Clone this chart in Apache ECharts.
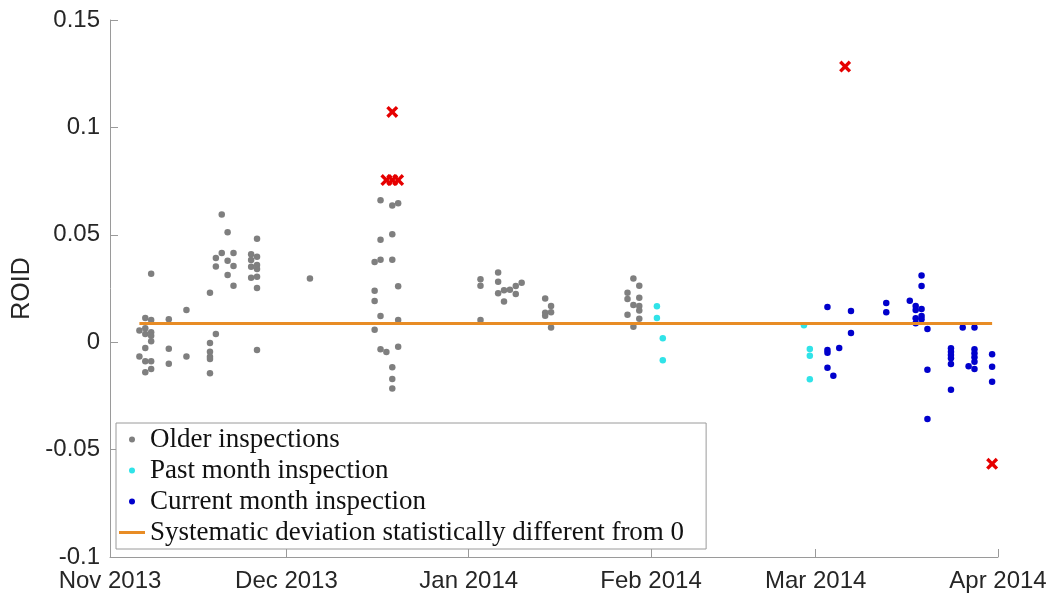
<!DOCTYPE html>
<html>
<head>
<meta charset="utf-8">
<script src="https://cdn.jsdelivr.net/npm/echarts@6/dist/echarts.min.js"></script>
<style>
html,body{margin:0;padding:0;background:#fff;}
#chart{width:1054px;height:596px;}
</style>
</head>
<body>
<div id="chart"></div>
<script>
// ---- data ----
const seriesNames = ['Older inspections', 'Past month inspection', 'Current month inspection',
  'Systematic deviation statistically different from 0'];

const olderPoints = [
  ['2013-11-06', 0.0054], ['2013-11-06', -0.0066],
  ['2013-11-07', 0.0113], ['2013-11-07', 0.0065], ['2013-11-07', 0.0038], ['2013-11-07', -0.0027],
  ['2013-11-07', -0.0089], ['2013-11-07', -0.0140],
  ['2013-11-08', 0.0319], ['2013-11-08', 0.0103], ['2013-11-08', 0.0046], ['2013-11-08', 0.0030],
  ['2013-11-08', 0.0004], ['2013-11-08', -0.0089], ['2013-11-08', -0.0125],
  ['2013-11-11', 0.0107], ['2013-11-11', -0.0030], ['2013-11-11', -0.0100],
  ['2013-11-14', 0.0150], ['2013-11-14', -0.0066],
  ['2013-11-18', 0.0230], ['2013-11-18', -0.0004], ['2013-11-18', -0.0044], ['2013-11-18', -0.0068],
  ['2013-11-18', -0.0078], ['2013-11-18', -0.0145],
  ['2013-11-19', 0.0392], ['2013-11-19', 0.0353], ['2013-11-19', 0.0038],
  ['2013-11-20', 0.0595], ['2013-11-20', 0.0415],
  ['2013-11-21', 0.0512], ['2013-11-21', 0.0379], ['2013-11-21', 0.0313],
  ['2013-11-22', 0.0415], ['2013-11-22', 0.0355], ['2013-11-22', 0.0263],
  ['2013-11-25', 0.0409], ['2013-11-25', 0.0383], ['2013-11-25', 0.0351], ['2013-11-25', 0.0300],
  ['2013-11-26', 0.0482], ['2013-11-26', 0.0398], ['2013-11-26', 0.0359], ['2013-11-26', 0.0341],
  ['2013-11-26', 0.0305], ['2013-11-26', 0.0252], ['2013-11-26', -0.0036],
  ['2013-12-05', 0.0297],
  ['2013-12-16', 0.0373], ['2013-12-16', 0.0240], ['2013-12-16', 0.0192], ['2013-12-16', 0.0058],
  ['2013-12-17', 0.0661], ['2013-12-17', 0.0477], ['2013-12-17', 0.0384], ['2013-12-17', 0.0122],
  ['2013-12-17', -0.0033],
  ['2013-12-18', -0.0046],
  ['2013-12-19', 0.0636], ['2013-12-19', 0.0503], ['2013-12-19', 0.0384], ['2013-12-19', -0.0117],
  ['2013-12-19', -0.0171], ['2013-12-19', -0.0216],
  ['2013-12-20', 0.0647], ['2013-12-20', 0.0260], ['2013-12-20', 0.0103], ['2013-12-20', -0.0021],
  ['2014-01-03', 0.0293], ['2014-01-03', 0.0263], ['2014-01-03', 0.0103],
  ['2014-01-06', 0.0324], ['2014-01-06', 0.0282], ['2014-01-06', 0.0228],
  ['2014-01-07', 0.0242], ['2014-01-07', 0.0189],
  ['2014-01-08', 0.0244],
  ['2014-01-09', 0.0262], ['2014-01-09', 0.0224],
  ['2014-01-10', 0.0277],
  ['2014-01-14', 0.0203], ['2014-01-14', 0.0137], ['2014-01-14', 0.0123],
  ['2014-01-15', 0.0169], ['2014-01-15', 0.0139], ['2014-01-15', 0.0069],
  ['2014-01-28', 0.0230], ['2014-01-28', 0.0201], ['2014-01-28', 0.0128],
  ['2014-01-29', 0.0296], ['2014-01-29', 0.0173], ['2014-01-29', 0.0072],
  ['2014-01-30', 0.0263], ['2014-01-30', 0.0207], ['2014-01-30', 0.0169], ['2014-01-30', 0.0147],
  ['2014-01-30', 0.0109]
];

const pastMonthPoints = [
  ['2014-02-02', 0.0167], ['2014-02-02', 0.0113],
  ['2014-02-03', 0.0018], ['2014-02-03', -0.0084],
  ['2014-02-27', 0.0079],
  ['2014-02-28', -0.0032], ['2014-02-28', -0.0063], ['2014-02-28', -0.0173]
];

const currentMonthPoints = [
  ['2014-03-03', 0.0164], ['2014-03-03', -0.0036], ['2014-03-03', -0.0049], ['2014-03-03', -0.0119],
  ['2014-03-04', -0.0156],
  ['2014-03-05', -0.0027],
  ['2014-03-07', 0.0145], ['2014-03-07', 0.0043],
  ['2014-03-13', 0.0182], ['2014-03-13', 0.0139],
  ['2014-03-17', 0.0193],
  ['2014-03-18', 0.0169], ['2014-03-18', 0.0150], ['2014-03-18', 0.0111], ['2014-03-18', 0.0088],
  ['2014-03-19', 0.0310], ['2014-03-19', 0.0262], ['2014-03-19', 0.0155], ['2014-03-19', 0.0122],
  ['2014-03-19', 0.0107],
  ['2014-03-20', 0.0061], ['2014-03-20', -0.0128], ['2014-03-20', -0.0358],
  ['2014-03-24', -0.0028], ['2014-03-24', -0.0044], ['2014-03-24', -0.0060], ['2014-03-24', -0.0075],
  ['2014-03-24', -0.0101], ['2014-03-24', -0.0221],
  ['2014-03-26', 0.0068],
  ['2014-03-27', -0.0112],
  ['2014-03-28', 0.0068], ['2014-03-28', -0.0033], ['2014-03-28', -0.0052], ['2014-03-28', -0.0070],
  ['2014-03-28', -0.0091], ['2014-03-28', -0.0125],
  ['2014-03-31', -0.0056], ['2014-03-31', -0.0114], ['2014-03-31', -0.0184]
];

const outlierPoints = [
  ['2013-12-19', 0.1072], ['2013-12-18', 0.0755], ['2013-12-19', 0.0755], ['2013-12-20', 0.0755],
  ['2014-03-06', 0.1283], ['2014-03-31', -0.0566]
];

const deviationDates = ['2013-11-06', '2014-03-31'];
const deviationValue = 0.0087;

const xMin = '2013-11-01';
const xMax = '2014-04-01';
const monthNames = ['Jan','Feb','Mar','Apr','May','Jun','Jul','Aug','Sep','Oct','Nov','Dec'];
const yTicks = [-0.1, -0.05, 0, 0.05, 0.1, 0.15];

// ---- chart ----
const chart = echarts.init(document.getElementById('chart'));
const sans = 'Liberation Sans, Arial, sans-serif';
const serif = 'Liberation Serif, Times New Roman, serif';
const xPath = 'path://M2,0 L5,3 L8,0 L10,2 L7,5 L10,8 L8,10 L5,7 L2,10 L0,8 L3,5 L0,2 Z';
const lineIcon = 'path://M0,0 L26,0 L26,3 L0,3 Z';

chart.setOption({
  animation: false,
  backgroundColor: '#ffffff',
  grid: { left: 110, right: 56, top: 20, bottom: 39 },
  xAxis: {
    type: 'time',
    min: xMin,
    max: xMax,
    minInterval: 28 * 86400000,
    maxInterval: 31 * 86400000,
    splitLine: { show: false },
    axisLine: { show: true, onZero: false, lineStyle: { color: '#9a9a9a', width: 1 } },
    axisTick: { show: true, inside: true, length: 8, lineStyle: { color: '#9a9a9a' } },
    axisLabel: {
      color: '#262626', fontFamily: sans, fontSize: 24, margin: 12,
      showMinLabel: true, showMaxLabel: true, hideOverlap: false,
      formatter: function (v) {
        const d = new Date(v);
        return monthNames[d.getMonth()] + ' ' + d.getFullYear();
      }
    }
  },
  yAxis: {
    type: 'value',
    min: yTicks[0],
    max: yTicks[yTicks.length - 1],
    interval: 0.05,
    name: 'ROID',
    nameLocation: 'middle',
    nameGap: 70,
    nameTextStyle: { color: '#262626', fontFamily: sans, fontSize: 25 },
    splitLine: { show: false },
    axisLine: { show: true, onZero: false, lineStyle: { color: '#9a9a9a', width: 1 } },
    axisTick: { show: true, inside: true, length: 8, lineStyle: { color: '#9a9a9a' } },
    axisLabel: {
      color: '#262626', fontFamily: sans, fontSize: 24, margin: 10,
      formatter: function (v) { return String(+v.toFixed(2)); }
    }
  },
  legend: {
    data: [
      { name: seriesNames[0] },
      { name: seriesNames[1] },
      { name: seriesNames[2] },
      { name: seriesNames[3], icon: lineIcon }
    ],
    orient: 'vertical',
    left: 116,
    top: 423,
    padding: [3, 22, 3, 3],
    itemWidth: 26,
    itemHeight: 6,
    itemGap: 4,
    backgroundColor: '#ffffff',
    borderColor: '#9a9a9a',
    borderWidth: 1,
    borderRadius: 0,
    selectedMode: false,
    textStyle: { color: '#111111', fontFamily: serif, fontSize: 27, lineHeight: 24 }
  },
  series: [
    {
      name: seriesNames[0], type: 'scatter', data: olderPoints,
      symbol: 'circle', symbolSize: 6.5, itemStyle: { color: '#7f7f7f', opacity: 1 }, z: 2
    },
    {
      name: seriesNames[1], type: 'scatter', data: pastMonthPoints,
      symbol: 'circle', symbolSize: 6.5, itemStyle: { color: '#30e3e8', opacity: 1 }, z: 2
    },
    {
      name: seriesNames[2], type: 'scatter', data: currentMonthPoints,
      symbol: 'circle', symbolSize: 6.5, itemStyle: { color: '#0000cc', opacity: 1 }, z: 2
    },
    {
      name: seriesNames[3], type: 'line',
      data: deviationDates.map(d => [d, deviationValue]),
      symbol: 'none', showSymbol: false,
      lineStyle: { color: '#e88c25', width: 3 }, itemStyle: { color: '#e88c25' }, z: 3
    },
    {
      name: 'Outliers', type: 'scatter', data: outlierPoints,
      symbol: xPath, symbolSize: 12, itemStyle: { color: '#e60000', opacity: 1 }, z: 4
    }
  ]
});
</script>
</body>
</html>
